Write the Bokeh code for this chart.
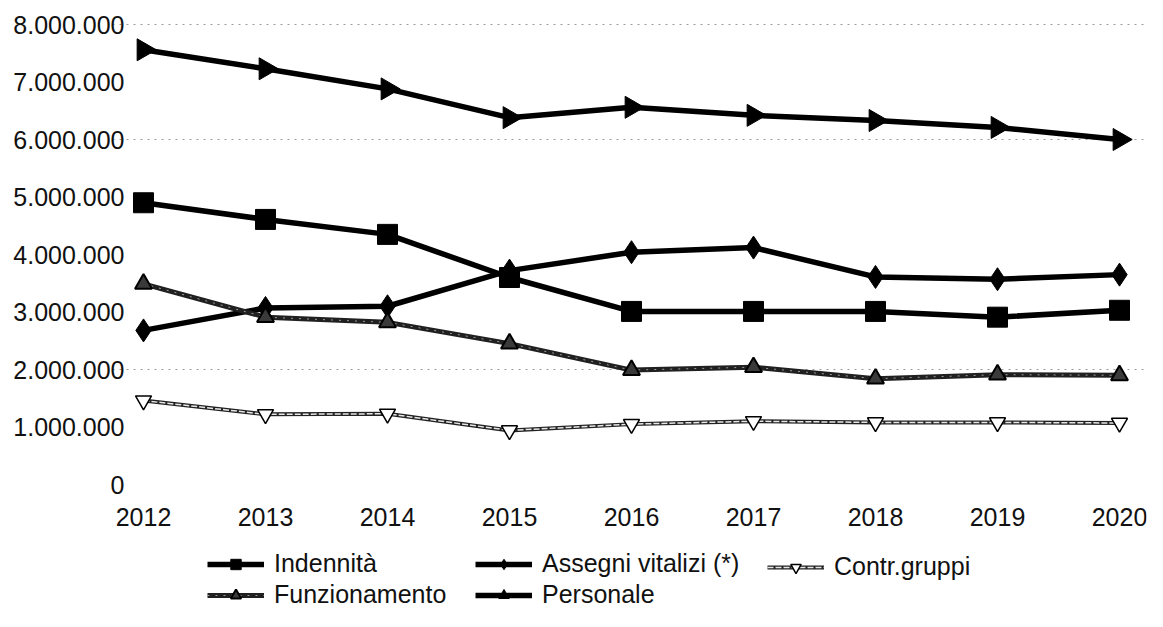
import math
from bokeh.plotting import figure
from bokeh.models import FixedTicker, Legend, LegendItem, Range1d, Grid
from bokeh.core.properties import value
from bokeh.embed import file_html
from bokeh.resources import INLINE

years = [2012, 2013, 2014, 2015, 2016, 2017, 2018, 2019, 2020]
indennita = [4900000, 4610000, 4350000, 3600000, 3010000, 3010000, 3010000, 2910000, 3030000]
assegni = [2680000, 3070000, 3100000, 3720000, 4040000, 4120000, 3610000, 3570000, 3650000]
contr_gruppi = [1460000, 1220000, 1230000, 940000, 1050000, 1100000, 1080000, 1080000, 1070000]
funzionamento = [3490000, 2910000, 2820000, 2450000, 1990000, 2040000, 1840000, 1910000, 1900000]
personale = [7560000, 7230000, 6880000, 6380000, 6560000, 6420000, 6330000, 6210000, 6000000]
y_ticks = [0, 1000000, 2000000, 3000000, 4000000, 5000000, 6000000, 7000000, 8000000]
year_labels = ["2012", "2013", "2014", "2015", "2016", "2017", "2018", "2019", "2020"]
labels = ["Indennità", "Assegni vitalizi (*)", "Contr.gruppi", "Funzionamento", "Personale"]

FONT = "Liberation Sans"
FS = "25px"
PX_PER_UNIT = 57.5 / 1000000  # vertical pixels per euro

p = figure(width=1147, height=611, output_backend="svg", toolbar_location=None,
           x_axis_location=None,
           x_range=Range1d(2011.7459, 2020.2213),
           y_range=Range1d(-127 / PX_PER_UNIT, 8000000 + 10 / PX_PER_UNIT),
           min_border_left=112, min_border_right=1, min_border_top=14, min_border_bottom=0)
p.outline_line_color = None
p.xgrid.grid_line_color = None
p.ygrid.grid_line_color = None
g = Grid(dimension=1, ticker=FixedTicker(ticks=[2000000, 6000000, 8000000]),
         grid_line_color="#9a9a9a", grid_line_dash="2 5", grid_line_width=1)
p.add_layout(g)

ax = p.yaxis[0]
ax.axis_line_color = None
ax.major_tick_line_color = None
ax.minor_tick_line_color = None
ax.major_tick_out = 0
ax.major_tick_in = 0
ax.major_label_text_font = FONT
ax.major_label_text_font_size = FS
ax.major_label_text_color = "#111111"
ax.ticker = FixedTicker(ticks=y_ticks)
ax.major_label_standoff = -12
ax.major_label_overrides = {v: f"{v:,}".replace(",", ".") for v in y_ticks}

# category (year) labels under the zero line
p.text(x=years, y=[-32 / PX_PER_UNIT] * len(years), text=year_labels,
       text_font=value(FONT), text_font_size=FS, text_color="#111111",
       text_align="center", text_baseline="middle")

# Indennità
r1l = p.line(years, indennita, line_color="black", line_width=5.5)
r1m = p.scatter(years, indennita, marker="square", size=20, fill_color="black", line_color="black")
# Assegni vitalizi
r2l = p.line(years, assegni, line_color="black", line_width=5.5)
r2m = p.scatter(years, assegni, marker="diamond", size=23, fill_color="black", line_color="black")
# Funzionamento
r4l = p.line(years, funzionamento, line_color="#202020", line_width=5)
r4i = p.line(years, funzionamento, line_color="#9a9a9a", line_width=1, line_dash="2 6")
r4m = p.scatter(years, funzionamento, marker="triangle", size=17, fill_color="#3a3a3a",
                line_color="black", line_width=2)
# Contr.gruppi
r3l = p.line(years, contr_gruppi, line_color="#222222", line_width=4)
r3i = p.line(years, contr_gruppi, line_color="#e6e6e6", line_width=1.5, line_dash="6 2")
r3m = p.scatter(years, contr_gruppi, marker="inverted_triangle", size=16, fill_color="white",
                line_color="black", line_width=1.5)
# Personale
r5l = p.line(years, personale, line_color="black", line_width=5.5)
r5m = p.scatter(years, personale, marker="triangle", size=22, angle=-math.pi / 2,
                fill_color="black", line_color="black")

item_h = 26
spacing = 2


def make_legend(items, vx, vy):
    lg = Legend(items=items, location=(vx, vy), orientation="vertical",
                glyph_width=57, glyph_height=item_h, label_height=item_h,
                label_standoff=10, spacing=spacing, padding=0, margin=0,
                border_line_color=None, background_fill_alpha=0,
                label_text_font=FONT, label_text_font_size=FS,
                label_text_color="#111111")
    p.add_layout(lg, "center")


vy = 2
make_legend([LegendItem(label=labels[0], renderers=[r1l, r1m]),
             LegendItem(label=labels[3], renderers=[r4l, r4i, r4m])], 95, vy)
make_legend([LegendItem(label=labels[1], renderers=[r2l, r2m]),
             LegendItem(label=labels[4], renderers=[r5l, r5m])], 363, vy)
make_legend([LegendItem(label=labels[2], renderers=[r3l, r3i, r3m])], 655, vy + item_h + spacing)

open("out.html", "w").write(file_html(p, INLINE))
